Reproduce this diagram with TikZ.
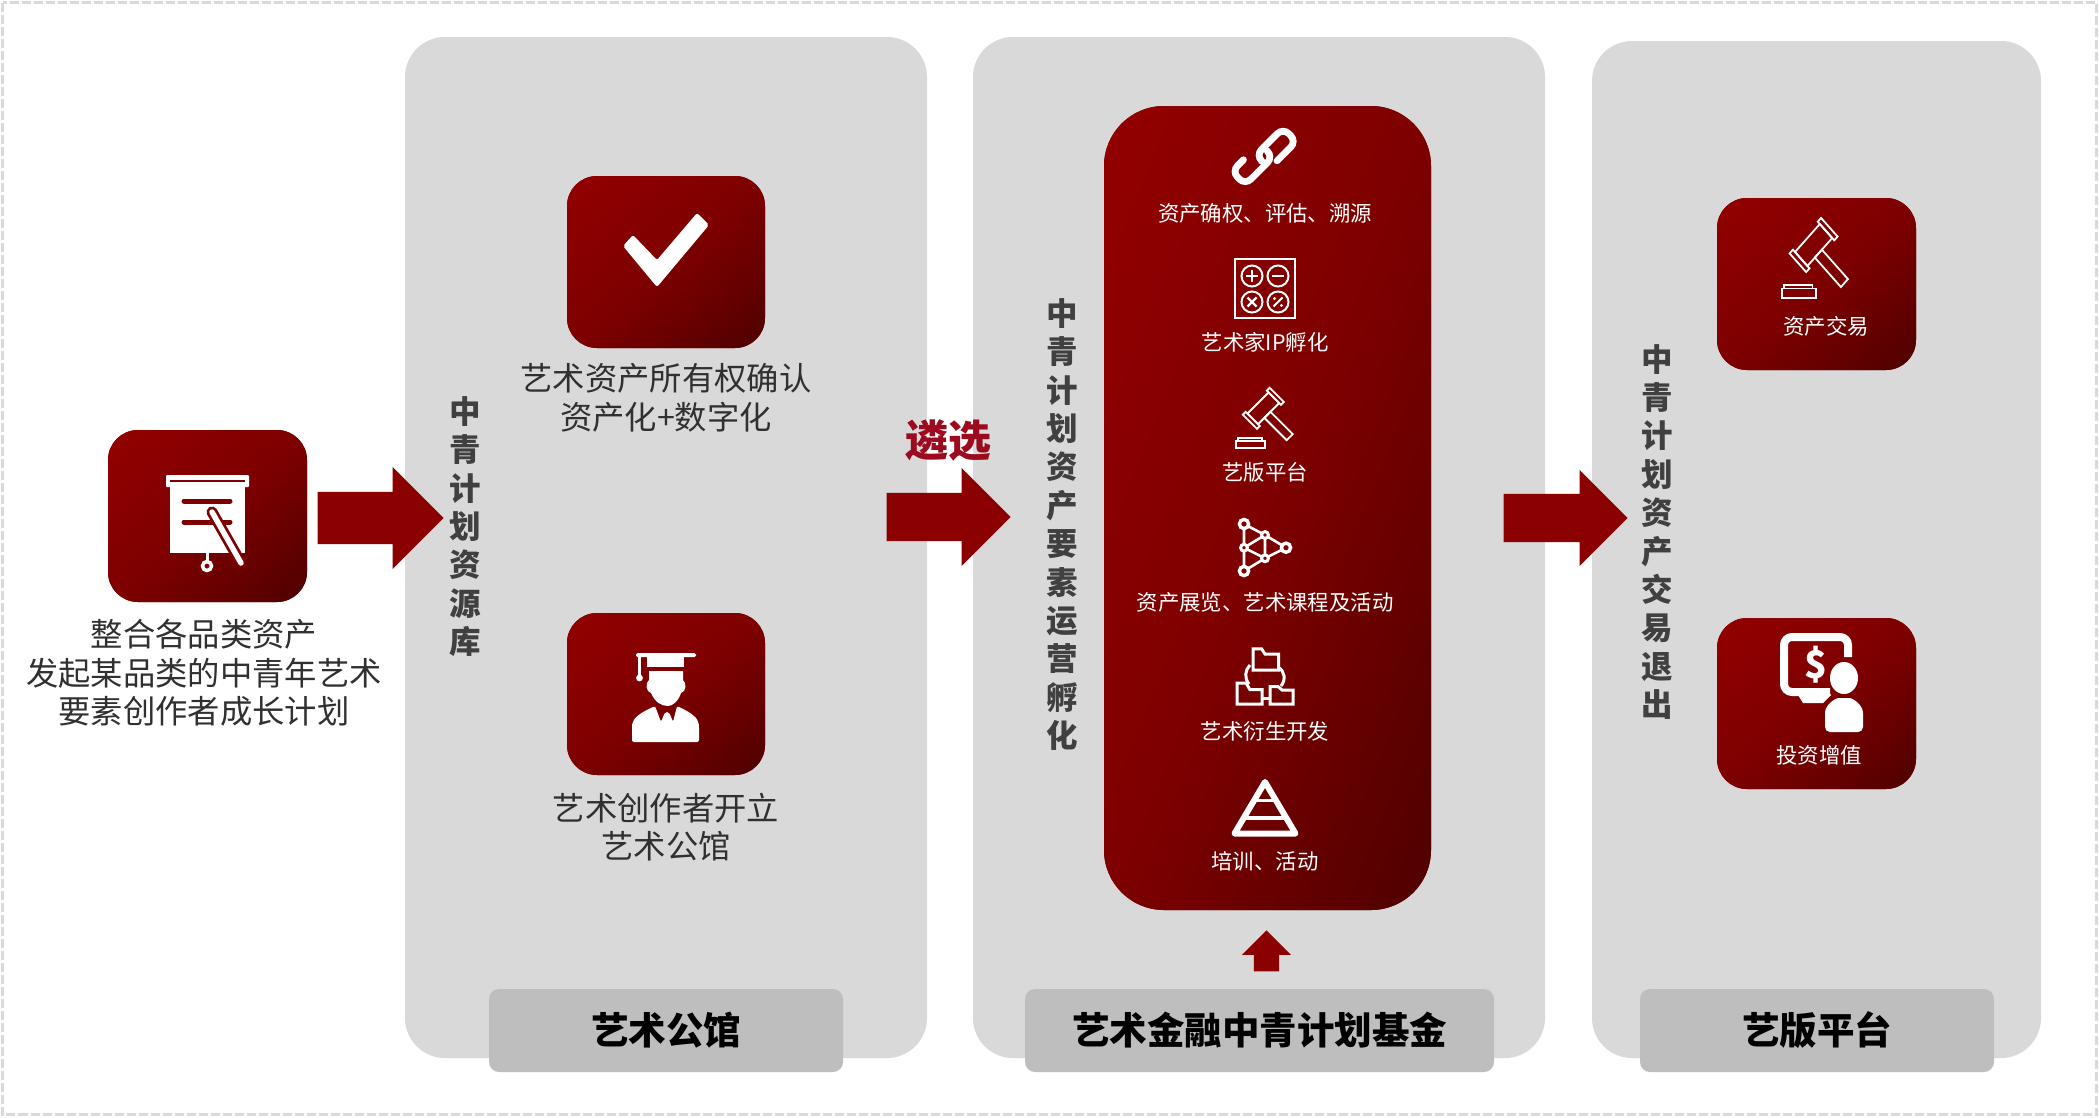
\documentclass[tikz,border=0pt]{standalone}
\usepackage{fontspec}
\setmainfont{Noto Sans CJK SC}
\usetikzlibrary{shapes.arrows}
\definecolor{panelgray}{HTML}{D9D9D9}
\definecolor{pillgray}{HTML}{BEBEBE}
\definecolor{arrowred}{HTML}{8B0000}
\definecolor{gradA}{HTML}{4E0000}
\definecolor{gradB}{HTML}{670000}
\definecolor{gradC}{HTML}{7E0000}
\definecolor{gradD}{HTML}{930000}
\definecolor{iconhole}{HTML}{7E0000}
\definecolor{bodytext}{HTML}{303030}
\definecolor{vertext}{HTML}{404040}
\definecolor{pickred}{HTML}{9B0A1E}
\pgfdeclareverticalshading{redgrad}{100bp}{color(0bp)=(gradA); color(25bp)=(gradB); color(50bp)=(gradC); color(100bp)=(gradD)}
\tikzset{
  panel/.style={fill=panelgray,rounded corners=40,draw=none},
  pill/.style={rectangle,fill=pillgray,rounded corners=10,inner sep=0,font=\fontsize{37.5}{40}\selectfont\bfseries,text=black},
  iconbox/.style 2 args={rectangle,rounded corners=30,inner sep=0,draw=none,fill=gradC,
    minimum width=#1,minimum height=#2,
    path picture={
      \pgftransformshift{\pgfpointanchor{path picture bounding box}{center}}
      \pgfmathsetmacro{\gw}{#1/100}\pgfmathsetmacro{\gh}{#2/100}
      \pgfmathsetmacro{\gn}{-#1/100}
      \pgftransformcm{\gw}{\gh}{\gn}{\gh}{\pgfpointorigin}
      \pgftext{\pgfuseshading{redgrad}}
    }},
  blockarrow/.style={single arrow,fill=arrowred,inner xsep=0,draw=none,single arrow tip angle=90,single arrow head indent=0pt,anchor=tip},
  bodylabel/.style={align=center,inner sep=0,text=bodytext,font=\fontsize{32.3}{38.5}\selectfont},
  vlabel/.style={align=center,inner sep=0,text=vertext,font=\fontsize{31.5}{38.4}\selectfont\bfseries},
  whitelabel/.style={inner sep=0,text=white,font=\fontsize{21.4}{25}\selectfont},
  iconline/.style={draw=white,line width=1.8},
}
\newcommand{\gavelicon}{%
  \begin{scope}[rotate=45]
    \draw[iconline] (15,-10) rectangle (19,10);
    \draw[iconline] (-19,-10) rectangle (-15,10);
    \draw[iconline] (-15,-7.5) rectangle (15,7.5);
    \draw[iconline] (-6,7.5) rectangle (2.5,39);
  \end{scope}
  \draw[iconline] (-27,33) rectangle (2,40);
  \draw[iconline] (-25,33)--(-25,30)--(-1,30)--(-1,33);
}
\begin{document}
\begin{tikzpicture}[x=1pt,y=-1pt]
\useasboundingbox (0,0) rectangle (2099,1117);
\fill[white] (0,0) rectangle (2099,1117);
\draw[panelgray,line width=3,dash pattern=on 9pt off 3pt] (2.5,2.5) rectangle (2096.5,1114.5);

% panels
\fill[panel] (405,37) rectangle (927,1058);
\fill[panel] (973,37) rectangle (1545,1058);
\fill[panel] (1592,41) rectangle (2041,1058);

% bottom labels
\node[pill,minimum width=354,minimum height=83] (pillA) at (666,1030.5) {艺术公馆};
\node[pill,minimum width=469,minimum height=83] (pillB) at (1259.5,1030.5) {艺术金融中青计划基金};
\node[pill,minimum width=354,minimum height=83] (pillC) at (1817,1030.5) {艺版平台};

% red boxes
\node[iconbox={199}{172}] (boxStart) at (207.5,516) {};
\node[iconbox={198}{172}] (boxCheck) at (666,262) {};
\node[iconbox={198}{162}] (boxGrad) at (666,694) {};
\node[iconbox={327}{804},rounded corners=60] (boxMain) at (1267.5,508) {};
\node[iconbox={199}{172}] (boxTrade) at (1816.5,284) {};
\node[iconbox={199}{171}] (boxInvest) at (1816.5,703.5) {};

% block arrows
\node[blockarrow,inner ysep=26,minimum height=126,single arrow head extend=25] (arrA) at (444,518) {};
\node[blockarrow,inner ysep=24,minimum height=124,single arrow head extend=25] (arrB) at (1011,517) {};
\node[blockarrow,inner ysep=24,minimum height=124,single arrow head extend=24] (arrC) at (1628,518) {};
\node[blockarrow,rotate=90,inner ysep=12.5,minimum height=41,single arrow head extend=12] (arrUp) at (1266.5,930) {};

% text
\node[bodylabel] (tStart) at (204,673) {整合各品类资产\\发起某品类的中青年艺术\\要素创作者成长计划};
\node[bodylabel] (tCheck) at (666,398) {艺术资产所有权确认\\资产化+数字化};
\node[bodylabel] (tGrad) at (666,827) {艺术创作者开立\\艺术公馆};
\node[vlabel] (vA) at (465,526.5) {中\\青\\计\\划\\资\\源\\库};
\node[vlabel] (vB) at (1062,524.5) {中\\青\\计\\划\\资\\产\\要\\素\\运\\营\\孵\\化};
\node[vlabel] (vC) at (1657,532) {中\\青\\计\\划\\资\\产\\交\\易\\退\\出};
\node[inner sep=0,text=pickred,font=\fontsize{43}{46}\selectfont\bfseries] (pick) at (948,440) {遴选};

\node[whitelabel] (m1) at (1265,213) {资产确权、评估、溯源};
\node[whitelabel] (m2) at (1265,342) {艺术家IP孵化};
\node[whitelabel] (m3) at (1265,472) {艺版平台};
\node[whitelabel] (m4) at (1265,602) {资产展览、艺术课程及活动};
\node[whitelabel] (m5) at (1265,731) {艺术衍生开发};
\node[whitelabel] (m6) at (1265,861) {培训、活动};
\node[whitelabel] (r1) at (1826,326) {资产交易};
\node[whitelabel] (r2) at (1819,755) {投资增值};

% icon: presentation board
\fill[white,rounded corners=1] (166,475) rectangle (249,487);
\draw[iconhole,line width=2] (170,481)--(245,481);
\fill[white] (170,487) rectangle (245,553);
\draw[iconhole,line width=5,line cap=round] (184,501)--(230,501) (184,522)--(230,522);
\draw[iconhole,line width=11,line cap=round] (212,512)--(241,563);
\draw[white,line width=5.5,line cap=round] (212,512)--(241,563);
\draw[white,line width=3] (207,553)--(207,562);
\draw[white,line width=3.5,fill=iconhole] (207,566) circle (4.5);

% icon: check mark
\fill[white,rounded corners=2] (633,235)--(623,246)--(657,287)--(709,225)--(697,213)--(657,260)--cycle;

% icon: graduate
\fill[white,rounded corners=1.5] (636,653) rectangle (696,657);
\fill[white] (647,656)--(684,656)--(684,667)--(647,667)--cycle;
\fill[white] (638,655) rectangle (641,675);
\fill[white] (639.5,678) circle (3.4);
\fill[white] (649,671)--(683,671)--(683,680) .. controls (687,683) and (686,692) .. (681,693) .. controls (678,702) and (672,706) .. (668,706) .. controls (661,706) and (655,702) .. (651,693) .. controls (646,692) and (645,683) .. (649,680) -- cycle;
\fill[white,rounded corners=2] (632,742)--(632,726) .. controls (633,718) and (640,713) .. (655,706)--(661,722)--(665,712)--(669,712)--(673,722)--(677,706) .. controls (692,713) and (698,718) .. (699,726)--(699,742)--cycle;

% icon: chain link
\begin{scope}[shift={(1265,157.3)},rotate=45]
  \draw[white,line width=6.8,rounded corners=8,line cap=round] (6,11)--(33.5,11)--(33.5,-8)--(-5,-8)--(-5,1);
  \draw[white,line width=6.8,rounded corners=8,line cap=round] (-17,-13.5)--(-33.5,-13.5)--(-33.5,5.5)--(6,5.5)--(6,-3);
\end{scope}

% icon: calculator
\draw[white,line width=2] (1235,259) rectangle (1295,318);
\foreach \cx/\cy in {1252/276,1278/276,1252/302,1278/302}
  \draw[white,line width=2] (\cx,\cy) circle (10.5);
\draw[white,line width=2.4] (1246,276)--(1258,276) (1252,270)--(1252,282);
\draw[white,line width=2.4] (1272,276)--(1284,276);
\draw[white,line width=2.4] (1247.5,297.5)--(1256.5,306.5) (1256.5,297.5)--(1247.5,306.5);
\draw[white,line width=2] (1273.5,306.5)--(1282.5,297.5);
\fill[white] (1274.5,298.5) circle (1.6) (1281.5,305.5) circle (1.6);

% icon: gavels
\begin{scope}[shift={(1263.3,408.3)}]
  \gavelicon
\end{scope}
\begin{scope}[shift={(1813.6,245)},xscale=1.17,yscale=1.32]
  \gavelicon
\end{scope}

% icon: network
\draw[white,line width=2.6] (1244,524)--(1265,535)--(1286,547.7)--(1265,558.3)--(1244,571)--(1244,524)
  (1244,547.7)--(1265,535)--(1265,558.3)--(1244,547.7);
\foreach \nx/\ny in {1244/524,1286/547.7,1244/571}
  \draw[white,line width=3.4,fill=iconhole] (\nx,\ny) circle (4.6);
\foreach \nx/\ny in {1265/535,1244/547.7,1265/558.3}
  \draw[white,line width=3,fill=iconhole] (\nx,\ny) circle (3.4);

% icon: folders
\draw[white,line width=3] (1250,665) .. controls (1245,670) and (1244,678) .. (1249,684);
\draw[white,line width=3] (1278,667) .. controls (1285,671) and (1286,680) .. (1281,686);
\draw[white,line width=3] (1263,698)--(1269,698);
\draw[white,line width=3] (1253,670)--(1253,648.8)--(1261.5,648.8)--(1265,654)--(1278.5,654)--(1278.5,670)--cycle;
\draw[white,line width=3] (1237,704)--(1237,683)--(1246,683)--(1250,689.7)--(1262,689.7)--(1262,704)--cycle;
\draw[white,line width=3] (1270,704)--(1270,686.5)--(1278,686.5)--(1282,690)--(1293,690)--(1293,704)--cycle;

% icon: pyramid
\draw[white,line width=6,line join=round] (1265,782)--(1234.5,833.5)--(1295.5,833.5)--cycle;
\draw[white,line width=3] (1253,800)--(1277,800);
\draw[white,line width=4] (1243,818)--(1287,818);

% icon: money and person
\draw[white,line width=8,rounded corners=8] (1848,657)--(1848,637)--(1784,637)--(1784,692)--(1830,692);
\fill[white] (1798,695)--(1803,703)--(1823,703)--(1831,695)--(1826,690)--cycle;
\node[inner sep=0,text=white,font=\fontsize{38}{40}\selectfont\bfseries] (dollar) at (1816,665) {\$};
\fill[white] (1844,678) ellipse (14 and 16);
\fill[white,rounded corners=5] (1825,732)--(1825,718) .. controls (1825,705) and (1835,698) .. (1844,698) .. controls (1853,698) and (1863,705) .. (1863,718)--(1863,732)--cycle;
\end{tikzpicture}
\end{document}
